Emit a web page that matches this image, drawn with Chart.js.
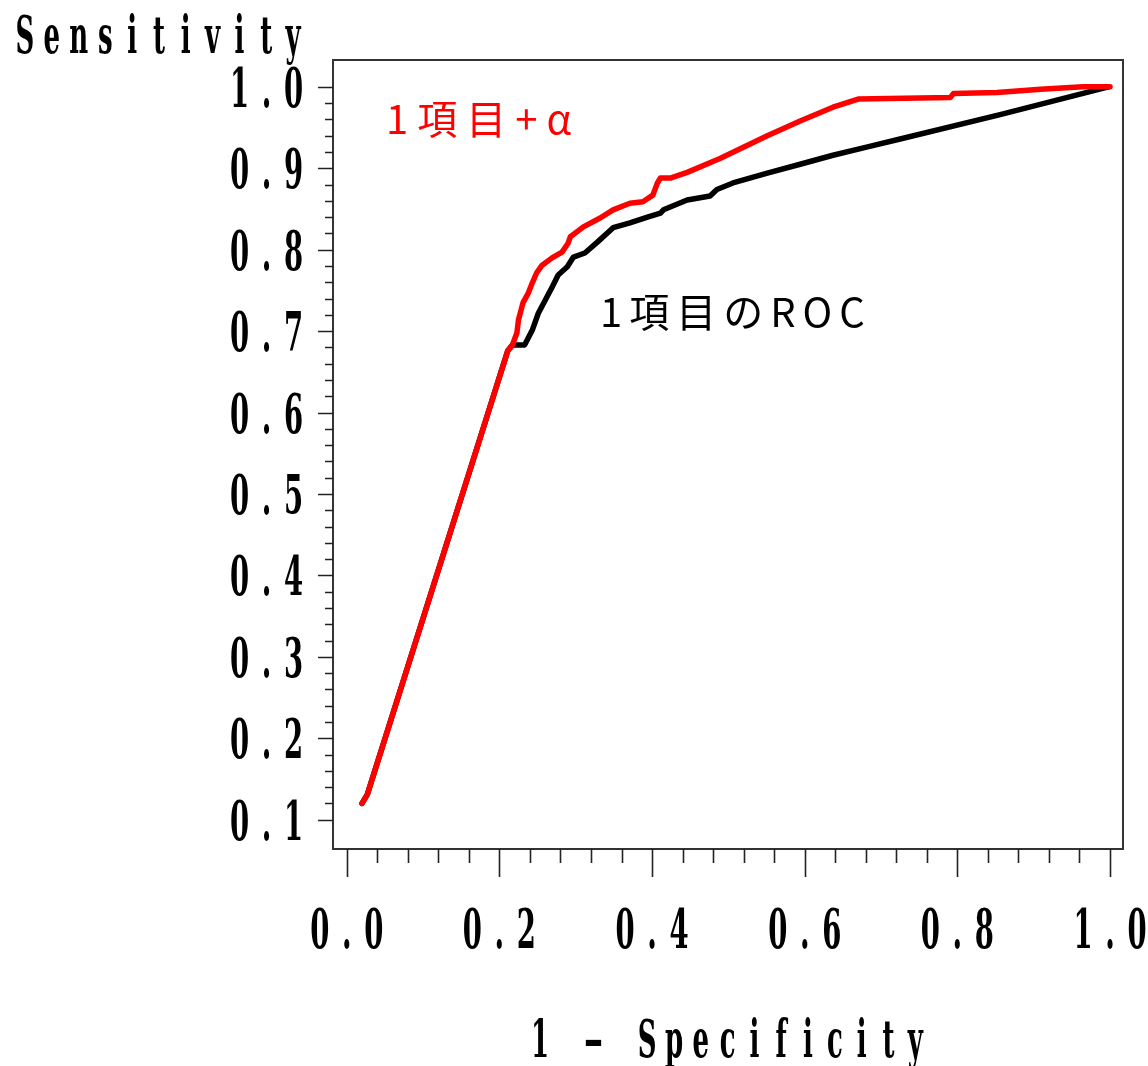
<!DOCTYPE html>
<html>
<head>
<meta charset="utf-8">
<script src="https://cdn.jsdelivr.net/npm/chart.js@4.4.1/dist/chart.umd.min.js"></script>
<style>
	html, body { margin: 0; padding: 0; background: #fff; }
	#wrap { width: 1148px; height: 1066px; }
</style>
</head>
<body>
<div id="wrap"><canvas id="roc"></canvas></div>
<script>
( function () {
	'use strict';

	// ----------------------------------------------------------------
	// Data
	// ----------------------------------------------------------------
	var redX = [ 0.020, 0.027, 0.211, 0.217, 0.223, 0.225, 0.231, 0.238, 0.243, 0.249,
		0.256, 0.269, 0.282, 0.290, 0.293, 0.310, 0.332, 0.349, 0.371, 0.388,
		0.401, 0.407, 0.411, 0.424, 0.446, 0.489, 0.551,
		0.594, 0.637, 0.670, 0.791, 0.795, 0.852, 0.909, 0.965, 1.000 ];
	var redY = [ 0.120, 0.131, 0.676, 0.683, 0.698, 0.714, 0.735, 0.747, 0.759, 0.772,
		0.781, 0.790, 0.797, 0.808, 0.816, 0.828, 0.839, 0.849, 0.857, 0.859,
		0.867, 0.882, 0.888, 0.888, 0.895, 0.912, 0.940,
		0.958, 0.975, 0.985, 0.987, 0.992, 0.993, 0.997, 1.000, 1.000 ];

	var blackX = [ 0.020, 0.027, 0.211, 0.217, 0.233, 0.243, 0.251, 0.260, 0.269, 0.277,
		0.289, 0.297, 0.312, 0.328, 0.349, 0.371, 0.394, 0.411, 0.415, 0.446,
		0.476, 0.485, 0.506, 0.551, 0.594, 0.637, 0.681, 0.725, 0.856, 0.998 ];
	var blackY = [ 0.120, 0.131, 0.676, 0.683, 0.683, 0.701, 0.722, 0.738, 0.754, 0.769,
		0.779, 0.791, 0.796, 0.809, 0.827, 0.833, 0.840, 0.845, 0.849, 0.861,
		0.866, 0.874, 0.882, 0.894, 0.905, 0.916, 0.926, 0.936, 0.966, 1.000 ];

	var xTickLabels = [ '0.0', '0.2', '0.4', '0.6', '0.8', '1.0' ];
	var yTickLabels = [ '0.1', '0.2', '0.3', '0.4', '0.5', '0.6', '0.7', '0.8', '0.9', '1.0' ];

	var xTitle = '1 – Specificity';
	var yTitle = 'Sensitivity';
	var redLabel = '1項目+α';
	var blackLabel = '1項目のROC';

	// ----------------------------------------------------------------
	// Helpers
	// ----------------------------------------------------------------
	var SAS_FONT = '"DejaVu Serif", serif';
	var JP_FONT  = '"Noto Sans CJK JP", "Noto Sans", sans-serif';

	function points( xs, ys ) {
		return xs.map( function ( x, i ) { return { x: x, y: ys[ i ] }; } );
	}

	// Tall, narrow, fixed-pitch lettering like the old SAS plot font
	function drawCondensed( ctx, text, firstCenter, baseline, pitch, size ) {
		ctx.save();
		ctx.font = 'bold ' + size + 'px ' + SAS_FONT;
		ctx.fillStyle = '#000';
		ctx.textAlign = 'center';
		ctx.textBaseline = 'alphabetic';
		for ( var i = 0; i < text.length; i++ ) {
			var ch = text.charAt( i );
			if ( ch === ' ' ) { continue; }
			ctx.save();
			ctx.translate( firstCenter + i * pitch, baseline );
			ctx.scale( ch === '–' ? 0.75 : 0.5, 1 );
			ctx.fillText( ch, 0, 0 );
			ctx.restore();
		}
		ctx.restore();
	}

	var sasAxes = {
		id: 'sasAxes',
		afterDraw: function ( chart ) {
			var ctx = chart.ctx;
			var area = chart.chartArea;
			var xs = chart.scales.x;
			var ys = chart.scales.y;
			var PITCH = 27;

			ctx.save();
			ctx.strokeStyle = '#333';
			ctx.lineWidth = 2;
			ctx.strokeRect( area.left, area.top, area.right - area.left, area.bottom - area.top );

			// y ticks: minor every 0.02, major every 0.1
			ctx.strokeStyle = '#222';
			ctx.lineWidth = 1.6;
			ctx.beginPath();
			for ( var k = 5; k <= 50; k++ ) {
				var py = Math.round( ys.getPixelForValue( k * 0.02 ) ) + 0.5;
				var len = k % 5 === 0 ? 15 : 8;
				ctx.moveTo( area.left, py );
				ctx.lineTo( area.left - len, py );
			}
			// x ticks: minor every 0.04, major every 0.2
			for ( var j = 0; j <= 25; j++ ) {
				var px = Math.round( xs.getPixelForValue( j * 0.04 ) ) + 0.5;
				var tl = j % 5 === 0 ? 28 : 14;
				ctx.moveTo( px, area.bottom );
				ctx.lineTo( px, area.bottom + tl );
			}
			ctx.stroke();
			ctx.restore();

			yTickLabels.forEach( function ( lab ) {
				var py = ys.getPixelForValue( parseFloat( lab ) );
				var first = 293.5 - ( lab.length - 1 ) * PITCH;
				drawCondensed( ctx, lab, first, py + 20, PITCH, 55 );
			} );
			xTickLabels.forEach( function ( lab ) {
				var px = xs.getPixelForValue( parseFloat( lab ) );
				var first = px - ( lab.length - 1 ) * PITCH / 2;
				drawCondensed( ctx, lab, first, area.bottom + 99, PITCH, 55 );
			} );

			drawCondensed( ctx, yTitle, 25, 53, 26.8, 52 );
			drawCondensed( ctx, xTitle, 540, 1057, 26.8, 52 );

			ctx.save();
			ctx.textBaseline = 'alphabetic';
			ctx.textAlign = 'left';
			ctx.font = '40px ' + JP_FONT;
			ctx.letterSpacing = '9px';
			ctx.fillStyle = '#ff0000';
			ctx.fillText( redLabel, 386, 134 );
			ctx.letterSpacing = '7px';
			ctx.fillStyle = '#000';
			ctx.fillText( blackLabel, 600, 327 );
			ctx.restore();
		}
	};

	document.addEventListener( 'DOMContentLoaded', function () {
		new Chart( document.getElementById( 'roc' ), {
			type: 'scatter',
			data: {
				datasets: [ {
					label: redLabel,
					data: points( redX, redY ),
					showLine: true,
					borderColor: '#ff0000',
					backgroundColor: '#ff0000',
					borderWidth: 5.5,
					borderJoinStyle: 'round',
					borderCapStyle: 'round',
					pointRadius: 0,
					order: 0,
				}, {
					label: blackLabel,
					data: points( blackX, blackY ),
					showLine: true,
					borderColor: '#000',
					backgroundColor: '#000',
					borderWidth: 5.5,
					borderJoinStyle: 'round',
					borderCapStyle: 'round',
					pointRadius: 0,
					order: 1,
				} ],
			},
			options: {
				responsive: true,
				maintainAspectRatio: false,
				animation: false,
				layout: { padding: { left: 333, top: 60, right: 25, bottom: 217 } },
				plugins: { legend: { display: false }, tooltip: { enabled: false } },
				scales: {
					x: { type: 'linear', display: false, min: -0.018, max: 1.017 },
					y: { type: 'linear', display: false, min: 0.064, max: 1.033 },
				},
			},
			plugins: [ sasAxes ],
		} );
	} );

}() );
</script>
</body>
</html>
